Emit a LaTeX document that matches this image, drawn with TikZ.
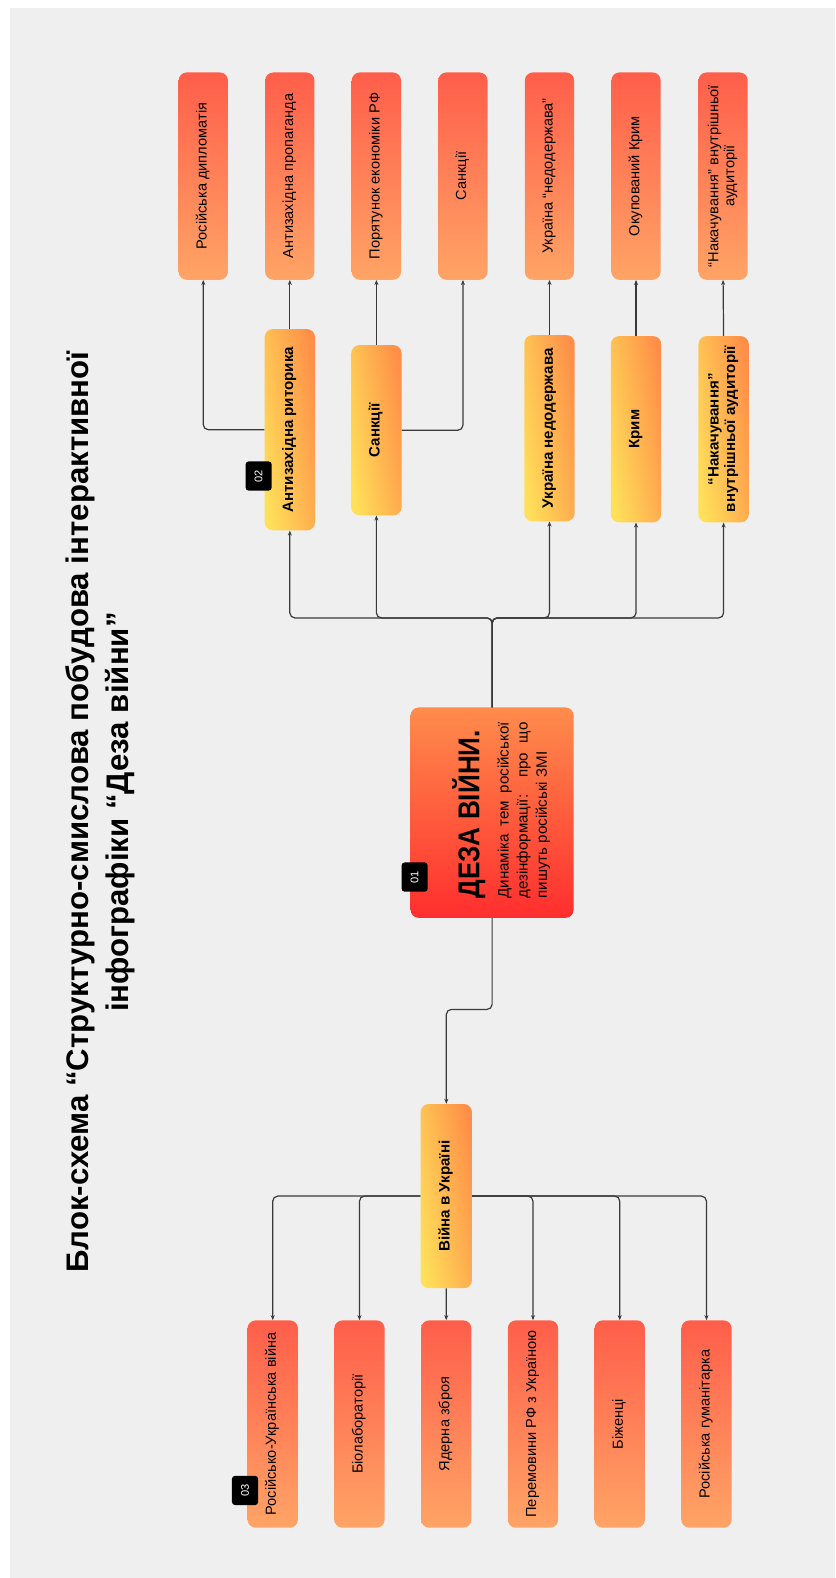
\documentclass[tikz,border=0pt]{standalone}
\usepackage{fontspec}
\setmainfont{Liberation Sans}
\usetikzlibrary{arrows.meta}

\definecolor{bggrey}{HTML}{EFEFEF}
\definecolor{redtop}{HTML}{FF5E4A}
\definecolor{redbot}{HTML}{FFA466}
\definecolor{ylwlow}{HTML}{FFE05A}
\definecolor{ylwhigh}{HTML}{FF8E48}
\definecolor{dezatop}{HTML}{FF8C4C}
\definecolor{dezabot}{HTML}{FF2E2E}
\definecolor{wire}{HTML}{3A3A3A}

\newcommand{\vtext}[1]{\rotatebox{90}{\begin{tabular}{@{}c@{}}#1\end{tabular}}}

\tikzset{
	leaf/.style={rectangle, rounded corners=8pt, top color=redtop, bottom color=redbot,
		minimum width=49pt, minimum height=206pt, inner sep=0pt,
		font=\fontsize{14.5}{16}\selectfont},
	topic/.style={rectangle, rounded corners=8pt, left color=ylwlow, right color=ylwhigh,
		shading angle=100, minimum width=50pt, inner sep=0pt,
		font=\bfseries\fontsize{15}{16.5}\selectfont},
	badge/.style={rectangle, rounded corners=3pt, fill=black, text=white,
		minimum width=26pt, minimum height=29pt, inner sep=0pt,
		font=\fontsize{11}{13}\selectfont},
	wireline/.style={draw=wire, line width=1.2pt, rounded corners=5pt},
	arr/.style={wireline, -{Stealth[length=5pt,width=4pt]}}
}

\begin{document}
\begin{tikzpicture}[x=1pt,y=-1pt]
	\useasboundingbox (0,0) rectangle (830,1568);
	\fill[bggrey] (10,7.5) rectangle (830,1568);

	\node[font=\bfseries\fontsize{31}{40}\selectfont] (title) at (100,807)
		{\vtext{Блок-схема “Структурно-смислова побудова інтерактивної\\інфографіки “Деза війни”}};

	% top row
	\node[leaf] (r1) at (202,175) {\vtext{Російська дипломатія}};
	\node[leaf] (r2) at (288,175) {\vtext{Антизахідна пропаганда}};
	\node[leaf] (r3) at (374,175) {\vtext{Порятунок економіки РФ}};
	\node[leaf] (r4) at (460,175) {\vtext{Санкції}};
	\node[leaf] (r5) at (546,175) {\vtext{Україна “недодержава”}};
	\node[leaf] (r6) at (632,175) {\vtext{Окупований Крим}};
	\node[leaf] (r7) at (718.5,175) {\vtext{“Накачування” внутрішньої\\аудиторії}};

	\node[topic, minimum height=200pt] (ant) at (288,427) {\vtext{Антизахідна риторика}};
	\node[topic, minimum height=169pt] (sank) at (374,427.5) {\vtext{Санкції}};
	\node[topic, minimum height=185pt] (ukr) at (546,425.5) {\vtext{Україна недодержава}};
	\node[topic, minimum height=185pt] (krym) at (632,426.5) {\vtext{Крим}};
	\node[topic, minimum height=185pt] (nak) at (719,426.5) {\vtext{“Накачування”\\внутрішньої аудиторії}};

	% main box
	\node[rectangle, rounded corners=8pt, top color=dezatop, bottom color=dezabot,
		minimum width=162pt, minimum height=209pt] (deza) at (489,807.5) {};
	\node[rotate=90, anchor=north west, inner sep=0pt, font=\bfseries\fontsize{26}{28}\selectfont]
		(dezahead) at (449,893) {\scalebox{1}[1.15]{ДЕЗА ВІЙНИ.}};
	\node[rotate=90, anchor=north west, inner sep=0pt, text width=175pt, align=justify,
		font=\fontsize{15}{19}\selectfont] (dezatext) at (494,893)
		{Динаміка тем російської\linebreak дезінформації: про що\linebreak пишуть російські ЗМІ};

	% bottom row
	\node[topic, minimum width=51pt, minimum height=183pt] (war) at (443.5,1188.5) {\vtext{Війна в Україні}};

	\node[leaf, minimum width=50pt] (l1) at (271,1415) {\vtext{Російсько-Українська війна}};
	\node[leaf, minimum width=50pt] (l2) at (357.2,1415) {\vtext{Біолабораторії}};
	\node[leaf, minimum width=50pt] (l3) at (443.4,1415) {\vtext{Ядерна зброя}};
	\node[leaf, minimum width=50pt] (l4) at (529.6,1415) {\vtext{Перемовини РФ з Україною}};
	\node[leaf, minimum width=50pt] (l5) at (615.8,1415) {\vtext{Біженці}};
	\node[leaf, minimum width=50pt] (l6) at (702,1415) {\vtext{Російська гуманітарка}};

	\node[badge] (b01) at (412,871.5) {\rotatebox{90}{01}};
	\node[badge] (b02) at (257,473) {\rotatebox{90}{02}};
	\node[badge] (b03) at (243.5,1481) {\rotatebox{90}{03}};

	% connectors
	\coordinate (fork) at (489,614);
	\coordinate (drop) at (489,1003);

	\draw[arr] (deza.north) -- (fork) -| (ant.south);
	\draw[arr] (deza.north) -- (fork) -| (sank.south);
	\draw[arr] (deza.north) -- (fork) -| (ukr.south);
	\draw[arr] (deza.north) -- (fork) -| (krym.south);
	\draw[arr] (deza.north) -- (fork) -| (nak.south);

	\draw[arr] (ant.west) -| (r1.south);
	\draw[arr] (ant.north) -- (r2.south);
	\draw[arr] (sank.north) -- (r3.south);
	\draw[arr] (sank.east) -| (r4.south);
	\draw[arr] (ukr.north) -- (r5.south);
	\draw[arr] (krym.north) -- (r6.south);
	\draw[arr] (nak.north) -- (r7.south);

	\draw[arr] (deza.south) -- (drop) -| (war.north);

	\draw[arr] (war.west) -| (l1.north);
	\draw[arr] (war.west) -| (l2.north);
	\draw[arr] (war.south) -- (l3.north);
	\draw[arr] (war.east) -| (l4.north);
	\draw[arr] (war.east) -| (l5.north);
	\draw[arr] (war.east) -| (l6.north);
\end{tikzpicture}
\end{document}
